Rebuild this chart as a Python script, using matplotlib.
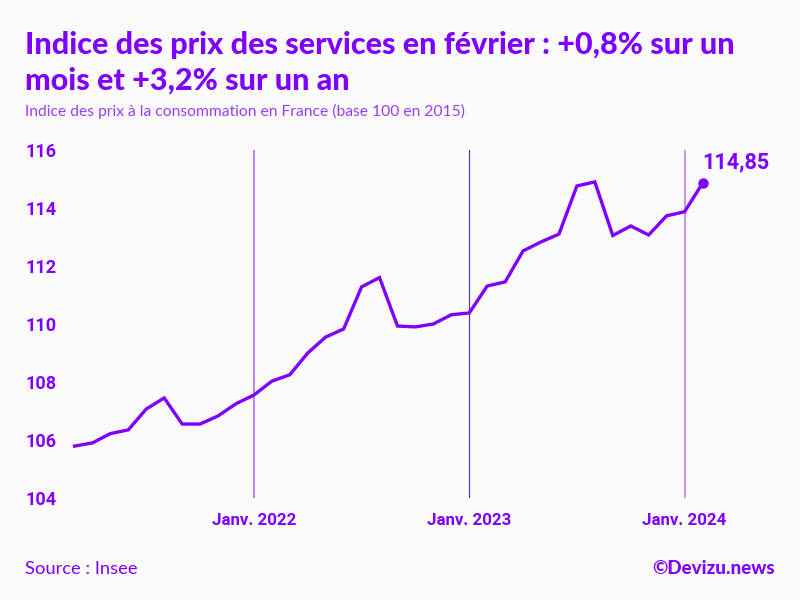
import matplotlib
matplotlib.use("Agg")
import matplotlib.pyplot as plt

months = list(range(36))  # 0 = mars 2021
values = [105.79, 105.90, 106.22, 106.35, 107.07, 107.45, 106.55, 106.55, 106.83, 107.25,
          107.55, 108.03, 108.25, 109.00, 109.55, 109.83, 111.28, 111.60, 109.93, 109.90,
          110.00, 110.32, 110.38, 111.31, 111.45, 112.52, 112.83, 113.10, 114.76, 114.90,
          113.05, 113.38, 113.07, 113.73, 113.87, 114.85]
yticks = [104, 106, 108, 110, 112, 114, 116]
xtick_pos = [10, 22, 34]
xtick_labels = ["Janv. 2022", "Janv. 2023", "Janv. 2024"]
vline_colors = ["#b06bff", "#5f3a9e", "#c08cfa"]
vline_widths = [1.2, 0.9, 1.3]
last_label = "114,85"

title_lines = ["Indice des prix des services en février : +0,8% sur un", "mois et +3,2% sur un an"]
subtitle = "Indice des prix à la consommation en France (base 100 en 2015)"
source = "Source : Insee"
credit = "©Devizu.news"

PURPLE = "#7f00ff"
BG = "#fbfbfb"
W, H = 800, 600

fig = plt.figure(figsize=(8, 6), dpi=100, facecolor=BG)
ax = fig.add_axes([74.5 / W, 1 - 498 / H, (702.5 - 74.5) / W, (498 - 150) / H], facecolor=BG)
ax.set_xlim(months[0], months[-1])
ax.set_ylim(104, 116)
for s in ax.spines.values():
    s.set_visible(False)

for pos, col, lw in zip(xtick_pos, vline_colors, vline_widths):
    ax.axvline(pos, color=col, lw=lw, zorder=1)

ax.plot(months, values, color=PURPLE, lw=2.4, solid_joinstyle="miter", zorder=3, clip_on=False)
ax.plot(months[-1], values[-1], "o", color=PURPLE, ms=6.5, zorder=4, clip_on=False)
ax.annotate(last_label, (months[-1], values[-1]), xytext=(0, 10), textcoords="offset pixels",
            fontsize=15.5, fontweight="bold", family="Roboto", color=PURPLE, va="bottom", ha="left")

ax.set_yticks(yticks)
ax.set_yticklabels([str(v) for v in yticks], fontsize=13, fontweight="bold", family="Roboto",
                   color=PURPLE, ha="left")
ax.tick_params(axis="y", length=0, pad=35.6)
ax.set_xticks(xtick_pos)
ax.set_xticklabels(xtick_labels, fontsize=12.2, fontweight="bold", family="Roboto", color=PURPLE)
ax.tick_params(axis="x", length=0, pad=11)

for line, yc in zip(title_lines, [45, 81]):
    fig.text(25 / W, 1 - yc / H, line, fontsize=22, fontweight=900, family="Lato", color=PURPLE,
             va="center", ha="left")
fig.text(25 / W, 1 - 111 / H, subtitle, fontsize=11.25, family="Lato", color="#9a3dff", va="center", ha="left")
fig.text(25 / W, 1 - 569 / H, source, fontsize=13.2, family="Lato", color=PURPLE, va="center", ha="left")
fig.text(775 / W, 1 - 569 / H, credit, fontsize=13.5, fontweight=900, family="Lato", color=PURPLE,
         va="center", ha="right")

fig.savefig("out.png", dpi=100, facecolor=BG)
